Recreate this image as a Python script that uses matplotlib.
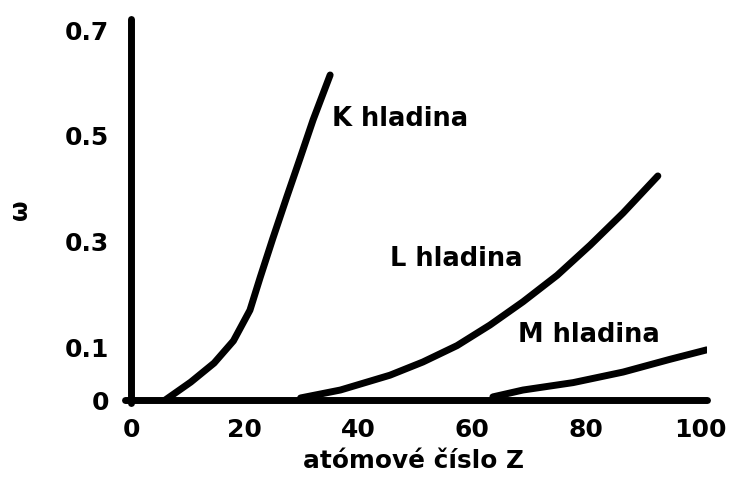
import matplotlib
matplotlib.use("Agg")
import matplotlib.pyplot as plt

# Data
k_z = [6.0, 10.5, 14.6, 18.0, 20.9, 22.7, 24.9, 27.4, 29.7, 32.0, 35.0]
k_w = [0.0, 0.034, 0.070, 0.112, 0.170, 0.232, 0.305, 0.385, 0.457, 0.530, 0.615]

l_z = [29.8, 36.8, 45.5, 51.3, 57.3, 63.1, 68.9, 74.9, 80.7, 86.5, 92.6]
l_w = [0.004, 0.019, 0.047, 0.072, 0.103, 0.142, 0.186, 0.236, 0.293, 0.354, 0.424]

m_z = [63.6, 68.9, 77.7, 86.5, 94.7, 101.2]
m_w = [0.006, 0.019, 0.033, 0.053, 0.077, 0.095]

x_ticks = [0, 20, 40, 60, 80, 100]
x_labels = ["0", "20", "40", "60", "80", "100"]
y_ticks = [0, 0.1, 0.3, 0.5, 0.7]
y_labels = ["0", "0.1", "0.3", "0.5", "0.7"]

curve_labels = ["K hladina", "L hladina", "M hladina"]
label_pos = [(35.3, 0.531), (45.5, 0.267), (68.0, 0.123)]

plt.rcParams['font.family'] = ['DejaVu Sans']

fig = plt.figure(figsize=(7.33, 4.87), dpi=100)
ax = fig.add_axes([0.171, 0.172, 0.794, 0.788])

lw = 5.0
for z, w in [(k_z, k_w), (l_z, l_w), (m_z, m_w)]:
    ax.plot(z, w, color="black", lw=lw, solid_capstyle="round",
            solid_joinstyle="round")

for txt, (x, y) in zip(curve_labels, label_pos):
    ax.text(x, y, txt, fontsize=18.5, fontweight="bold", ha="left", va="center")

ax.set_xlim(-1, 101.3)
ax.set_ylim(-0.006, 0.72)
for s in ["top", "right"]:
    ax.spines[s].set_visible(False)
ax.spines["left"].set_position(("data", 0))
ax.spines["bottom"].set_position(("data", 0))
for s in ["left", "bottom"]:
    ax.spines[s].set_linewidth(lw)
    ax.spines[s].set_capstyle("round")
ax.spines["left"].set_bounds(-0.006, 0.72)

ax.set_xticks(x_ticks)
ax.set_xticklabels(x_labels)
ax.set_yticks(y_ticks)
ax.set_yticklabels(y_labels)
ax.tick_params(axis="both", length=0, labelsize=18)
ax.tick_params(axis="x", pad=13)
ax.tick_params(axis="y", pad=16)
for t in ax.get_xticklabels() + ax.get_yticklabels():
    t.set_fontweight("bold")

fig.text(413/733, 1 - 461/487, "atómové číslo Z", fontsize=17.8, fontweight="bold",
         ha="center", va="center")
fig.text(20/733, 1 - 210/487, "ω", fontsize=17, fontweight="bold",
         ha="center", va="center", rotation=90)

fig.savefig("out.png", dpi=100)
